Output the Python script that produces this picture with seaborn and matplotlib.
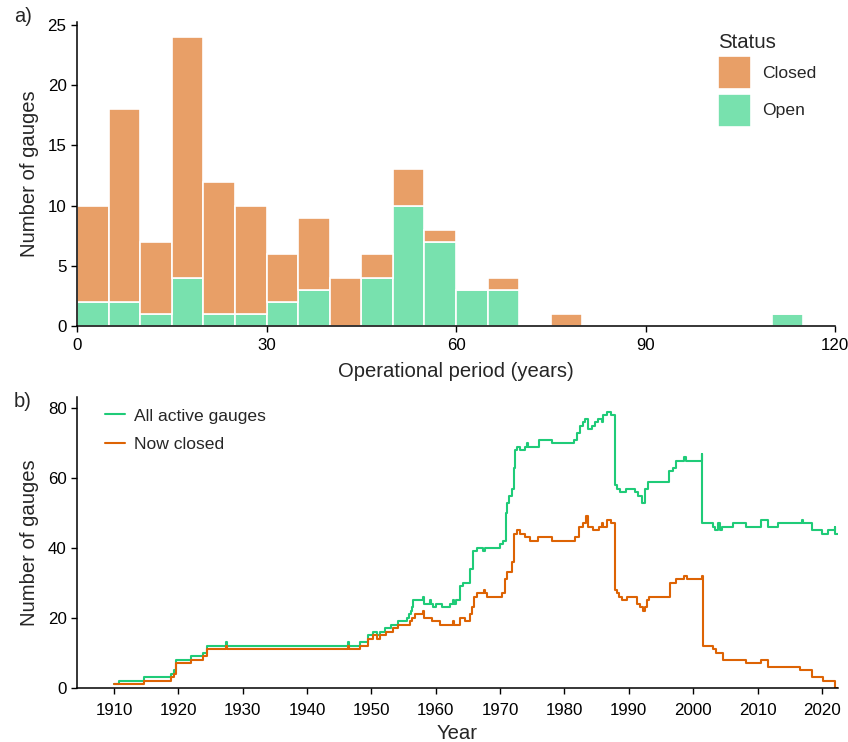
import matplotlib
matplotlib.use("Agg")
import matplotlib.pyplot as plt
import numpy as np
import pandas as pd
import seaborn as sns

# ---- Panel a: operational period histogram (5-year bins) ----
bin_starts = [0, 5, 10, 15, 20, 25, 30, 35, 40, 45, 50, 55,
              60, 65, 70, 75, 80, 85, 90, 95, 100, 105, 110, 115]
open_counts = [2, 2, 1, 4, 1, 1, 2, 3, 0, 4, 10, 7,
               3, 3, 0, 0, 0, 0, 0, 0, 0, 0, 1, 0]
closed_counts = [8, 16, 6, 20, 11, 9, 4, 6, 4, 2, 3, 1,
                 0, 1, 0, 1, 0, 0, 0, 0, 0, 0, 0, 0]
status_levels = ["Closed", "Open"]
bin_width = 5

# ---- Panel b: number of gauges in operation through time ----
active_years = [1910.0, 1910.8, 1914.6, 1918.9, 1919.3, 1919.6, 1921.9, 1923.8, 1924.5,
                1927.4, 1927.6, 1946.3, 1946.5, 1948.3, 1949.4, 1950.3, 1950.8, 1951.3,
                1952.1, 1953.1, 1954.2, 1955.5, 1955.9, 1956.1, 1956.3, 1956.5, 1958.0,
                1958.1, 1959.1, 1959.3, 1959.6, 1960.1, 1960.9, 1962.2, 1962.7, 1962.9,
                1963.2, 1963.8, 1964.3, 1965.3, 1965.8, 1966.4, 1967.4, 1967.6, 1970.0,
                1970.5, 1970.9, 1971.1, 1971.4, 1971.8, 1972.1, 1972.3, 1972.6, 1973.1,
                1973.9, 1974.1, 1974.3, 1976.0, 1978.0, 1981.4, 1981.9, 1982.4, 1982.9,
                1983.2, 1983.6, 1984.2, 1984.7, 1985.2, 1985.8, 1986.0, 1986.6, 1987.3,
                1987.9, 1988.2, 1988.6, 1989.6, 1990.9, 1991.5, 1992.0, 1992.5, 1993.0,
                1996.3, 1996.8, 1997.4, 1998.5, 1998.9, 2001.3, 2001.4, 2003.1, 2003.4,
                2003.8, 2004.1, 2004.4, 2006.2, 2008.2, 2010.6, 2011.7, 2013.2, 2016.9,
                2017.0, 2018.4, 2020.0, 2021.0, 2022.0, 2022.1, 2022.5]
active_counts = [1, 2, 3, 4, 5, 8, 9, 10, 12,
                 13, 12, 13, 12, 13, 15, 16, 15, 16,
                 17, 18, 19, 20, 21, 22, 23, 25, 26,
                 24, 25, 24, 23, 24, 23, 24, 25, 24,
                 25, 29, 30, 34, 39, 40, 39, 40, 41,
                 42, 50, 53, 55, 57, 63, 68, 69, 68,
                 69, 70, 69, 71, 70, 71, 73, 75, 76,
                 77, 74, 75, 76, 77, 76, 78, 79, 78,
                 58, 57, 56, 57, 56, 55, 53, 57, 59,
                 62, 63, 65, 66, 65, 67, 47, 46, 45,
                 47, 45, 46, 47, 46, 48, 46, 47, 48,
                 47, 45, 44, 45, 46, 44, 44]

closed_years = [1910.0, 1914.6, 1918.9, 1919.3, 1919.6, 1921.9, 1923.8, 1924.5, 1927.4,
                1927.6, 1946.3, 1946.5, 1948.3, 1949.4, 1950.3, 1950.8, 1951.3, 1952.3,
                1953.4, 1954.2, 1956.0, 1956.3, 1956.8, 1958.0, 1958.2, 1959.4, 1960.7,
                1962.6, 1962.8, 1963.8, 1964.5, 1965.3, 1965.7, 1966.0, 1966.4, 1967.5,
                1967.6, 1968.0, 1970.3, 1970.8, 1971.1, 1971.8, 1972.1, 1972.6, 1973.1,
                1973.9, 1974.6, 1975.9, 1978.0, 1981.6, 1982.2, 1982.9, 1983.3, 1983.6,
                1984.5, 1985.3, 1985.8, 1986.0, 1986.6, 1987.3, 1987.9, 1988.2, 1988.4,
                1988.9, 1989.7, 1991.2, 1991.8, 1992.2, 1992.5, 1992.8, 1993.2, 1996.4,
                1997.4, 1998.5, 1999.0, 2001.4, 2001.5, 2003.1, 2003.6, 2004.6, 2008.2,
                2010.6, 2011.7, 2016.6, 2018.4, 2020.1, 2022.1, 2022.5]
closed_active = [1, 2, 3, 4, 7, 8, 9, 11, 12,
                 11, 12, 11, 12, 14, 15, 14, 15, 16,
                 17, 18, 19, 20, 21, 22, 20, 19, 18,
                 19, 18, 20, 19, 21, 23, 26, 27, 28,
                 27, 26, 27, 31, 33, 36, 44, 45, 44,
                 43, 42, 43, 42, 43, 46, 47, 49, 46,
                 45, 46, 47, 46, 48, 47, 28, 27, 26,
                 25, 26, 24, 23, 22, 23, 25, 26, 30,
                 31, 32, 31, 32, 12, 11, 10, 8, 7,
                 8, 6, 5, 3, 2, 0, 0]
series_labels = ["All active gauges", "Now closed"]

closed_fill = "#E89F67"
open_fill = "#78E1AE"
active_line = "#1FCB78"
closed_line = "#DD6304"

# ---- styling ----
sns.set_style("ticks")
plt.rcParams["font.family"] = ["Liberation Sans", "DejaVu Sans"]
plt.rcParams["axes.edgecolor"] = "black"
plt.rcParams["axes.linewidth"] = 1.1
plt.rcParams["xtick.color"] = "black"
plt.rcParams["ytick.color"] = "black"
plt.rcParams["xtick.major.size"] = 4
plt.rcParams["ytick.major.size"] = 4
plt.rcParams["xtick.major.width"] = 1.0
plt.rcParams["ytick.major.width"] = 1.0

tick_fs = 12.2
label_fs = 14.6

fig = plt.figure(figsize=(8.48, 7.42), dpi=100)
ax_a = fig.add_axes([77 / 848, 1 - 325.7 / 742, (835 - 77) / 848, (325.7 - 21.7) / 742])
ax_b = fig.add_axes([77 / 848, 1 - 687.7 / 742, (838 - 77) / 848, (687.7 - 397) / 742])

# ---- panel a ----
hist_df = pd.DataFrame({
    "period": np.concatenate([np.array(bin_starts) + bin_width / 2] * 2),
    "n": closed_counts + open_counts,
    "Status": ["Closed"] * len(bin_starts) + ["Open"] * len(bin_starts),
})
edges = list(bin_starts) + [bin_starts[-1] + bin_width]
sns.histplot(data=hist_df, x="period", weights="n", hue="Status",
             hue_order=status_levels, multiple="stack", bins=edges,
             palette={"Closed": closed_fill, "Open": open_fill},
             alpha=1, edgecolor="white", linewidth=1.2, ax=ax_a)
ax_a.set_xlim(0, 120)
ax_a.set_ylim(0, 25.3)
ax_a.set_xticks([0, 30, 60, 90, 120])
ax_a.set_yticks([0, 5, 10, 15, 20, 25])
ax_a.set_xlabel("Operational period (years)", fontsize=label_fs, labelpad=6)
ax_a.set_ylabel("Number of gauges", fontsize=label_fs, labelpad=6)
ax_a.tick_params(labelsize=tick_fs)
ax_a.tick_params(axis="x", pad=5)
sns.move_legend(ax_a, "upper left", bbox_to_anchor=(0.8456, 0.962),
                frameon=False, borderpad=0, borderaxespad=0,
                fontsize=12.6, title_fontsize=14.7,
                handlelength=1.9, handleheight=2.52,
                labelspacing=0.24, handletextpad=0.6)
ax_a.get_legend()._legend_box.align = "left"

# ---- panel b ----
line_df = pd.concat([
    pd.DataFrame({"Year": active_years, "Gauges": active_counts,
                  "Series": series_labels[0]}),
    pd.DataFrame({"Year": closed_years, "Gauges": closed_active,
                  "Series": series_labels[1]}),
], ignore_index=True)
sns.lineplot(data=line_df, x="Year", y="Gauges", hue="Series",
             hue_order=series_labels,
             palette={series_labels[0]: active_line, series_labels[1]: closed_line},
             drawstyle="steps-post", linewidth=1.5, estimator=None, ax=ax_b)
ax_b.set_xlim(1904.25, 2022.5)
ax_b.set_ylim(0, 83.2)
ax_b.set_xticks(list(range(1910, 2021, 10)))
ax_b.set_yticks([0, 20, 40, 60, 80])
ax_b.set_xlabel("Year", fontsize=label_fs, labelpad=4)
ax_b.set_ylabel("Number of gauges", fontsize=label_fs, labelpad=6)
ax_b.tick_params(labelsize=tick_fs)
ax_b.tick_params(axis="x", pad=7)
sns.move_legend(ax_b, "upper left", bbox_to_anchor=(0.0368, 0.961),
                title=None, frameon=False, borderpad=0, borderaxespad=0,
                fontsize=12.6, handlelength=1.15, handletextpad=0.5,
                labelspacing=0.78)

for ax in (ax_a, ax_b):
    sns.despine(ax=ax)

fig.text(14 / 848, 1 - 17 / 742, "a)", fontsize=14.5, va="center", ha="left")
fig.text(14 / 848, 1 - 401 / 742, "b)", fontsize=14.5, va="center", ha="left")

fig.savefig("out.png", dpi=100)
